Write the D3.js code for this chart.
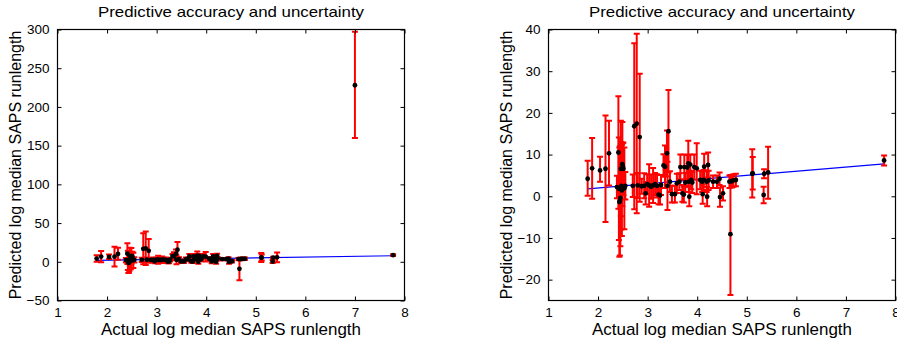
<!DOCTYPE html>
<html>
<head>
<meta charset="utf-8">
<script src="https://cdn.jsdelivr.net/npm/d3@7"></script>
<style>
  body { margin: 0; background: #fff; }
  svg { display: block; font-family: "Liberation Sans", Arial, Helvetica, sans-serif; }
</style>
</head>
<body>
<svg id="chart" width="897" height="341"></svg>
<script>
// actual log median runlength (x), predicted value (y) and its error bar ends
var actual = [1.79, 1.88, 2.04, 2.15, 2.22,
  2.38, 2.41, 2.42, 2.43, 2.44, 2.45, 2.46, 2.47, 2.48, 2.49, 2.50, 2.51, 2.53, 2.55,
  2.70, 2.73, 2.78, 2.80, 2.84, 2.88, 2.93, 2.96, 2.99, 3.03, 3.07, 3.11, 3.15, 3.19,
  3.22, 3.25, 3.27, 3.32, 3.35, 3.39, 3.42, 3.40, 3.45, 3.49, 3.55, 3.59, 3.64, 3.66,
  3.70, 3.73, 3.74, 3.76, 3.80, 3.82, 3.83, 3.84, 3.86, 3.88, 3.90, 3.94, 3.99, 4.06,
  4.10, 4.11, 4.13, 4.14, 4.19, 4.20, 4.22, 4.23, 4.32, 4.40, 4.45, 4.46, 4.52, 4.65,
  4.67, 4.70, 4.73, 4.78, 5.11, 5.12, 5.34, 5.35, 5.43, 7.00, 7.77];
var predicted = [4.2, 6.7, 6.2, 6.6, 10.3,
  2.2, 10.5, 1.8, -1.4, -1.1, -0.4, 6.6, 2.5, 1.4, 7.7, 7.1, 6.6, 1.9, 2.5,
  2.5, 16.8, 17.4, 2.6, 14.2, 2.4, 2.5, 0.7, 2.9, 2.6, 2.3, 2.6, 2.9, 2.5,
  0.4, 0.2, 2.7, 7.4, 7.1, 10.3, 15.6, 2.5, 3.5, 0.5, 0.5, 3.1, 3.5, 7.0,
  0.7, 0.4, 7.0, 3.3, 6.9, 7.9, 3.5, -0.1, 7.6, 3.9, 3.3, 7.0, 6.7, 3.9,
  3.5, 0.5, 3.9, 7.1, 3.5, -0.1, 7.5, 3.8, 3.5, 3.5, 4.2, -0.2, 0.7, 3.5,
  -9.1, 3.6, 3.8, 3.9, 5.4, 5.5, 0.3, 5.4, 5.7, 228, 8.6];
var lower = [0.1, -0.6, 3.5, -6.2, 2.6,
  -0.5, -3.0, -10.5, -14.5, -14.2, -12.0, -4.8, -8.0, -9.5, -2.4, 1.5, 0.3, -7.9, -0.8,
  -0.2, -3.1, -4.1, -0.4, -1.3, 0.6, -0.5, -2.0, 0.5, -2.5, -0.6, -1.6, 0.2, -0.3,
  -1.9, -2.0, 0.3, 4.7, 2.0, 4.8, 5.7, -3.3, 1.0, -1.5, -1.5, 0.8, 1.5, 4.0,
  -1.3, -1.5, 4.0, 1.0, 4.0, 2.5, 1.0, -2.4, 4.5, 1.7, 0.8, 4.0, 0.5, 1.7,
  1.0, -1.8, 1.5, 4.0, 1.0, -2.4, 4.5, 1.5, 2.0, 2.0, 2.7, -2.5, -1.0, 2.0,
  -23.7, 2.1, 2.3, 2.4, -0.3, 1.6, -1.7, 4.3, -0.6, 160, 7.4];
var upper = [8.5, 14.0, 9.5, 19.4, 18.1,
  4.9, 24.0, 14.1, 11.7, 12.0, 11.2, 18.1, 13.0, 12.3, 17.8, 12.7, 12.9, 11.7, 5.8,
  5.2, 36.7, 39.0, 5.6, 29.4, 4.2, 5.5, 3.4, 5.3, 7.7, 5.2, 6.8, 5.6, 5.3,
  2.7, 2.4, 5.1, 10.1, 12.2, 15.8, 25.5, 8.3, 6.0, 2.5, 2.5, 5.4, 5.5, 10.0,
  2.7, 2.3, 10.0, 5.6, 9.9, 13.3, 6.0, 2.2, 10.0, 6.1, 5.8, 10.0, 12.7, 6.1,
  6.0, 2.8, 6.3, 10.2, 6.0, 2.2, 10.5, 6.1, 5.0, 5.0, 5.7, 2.1, 2.4, 5.0,
  5.1, 5.1, 5.3, 5.4, 11.3, 9.4, 2.3, 6.5, 11.9, 297, 9.8];

var xTicks = [1, 2, 3, 4, 5, 6, 7, 8];
var yTicksLeft = [-50, 0, 50, 100, 150, 200, 250, 300];
var yTicksRight = [-20, -10, 0, 10, 20, 30, 40];

var titleText = "Predictive accuracy and uncertainty";
var xLabel = "Actual log median SAPS runlength";
var yLabel = "Predicted log median SAPS runlength";

var points = actual.map(function (x, i) {
  return { x: x, y: predicted[i], lo: lower[i], hi: upper[i] };
});

var svg = d3.select("#chart");

function fmt(v) {
  return v < 0 ? "\u2212" + Math.abs(v) : String(v);
}

function drawPanel(left, yDomain, yTicks, id) {
  var top = 29.5, w = 347, h = 271;
  var x = d3.scaleLinear().domain([1, 8]).range([0, w]);
  var y = d3.scaleLinear().domain(yDomain).range([h, 0]);

  var g = svg.append("g").attr("transform", "translate(" + left + "," + top + ")");

  g.append("clipPath").attr("id", id)
    .append("rect").attr("width", w).attr("height", h);

  var plot = g.append("g").attr("clip-path", "url(#" + id + ")");

  // y = x reference line over the data range
  var xr = d3.extent(actual);
  plot.append("line")
    .attr("x1", x(xr[0])).attr("y1", y(xr[0]))
    .attr("x2", x(xr[1])).attr("y2", y(xr[1]))
    .attr("stroke", "#0000ff").attr("stroke-width", 1.2);

  var bars = plot.selectAll("g.bar").data(points).enter().append("g").attr("class", "bar")
    .attr("stroke", "#ff0000").attr("stroke-width", 2);
  bars.append("line")
    .attr("x1", function (d) { return x(d.x); }).attr("x2", function (d) { return x(d.x); })
    .attr("y1", function (d) { return y(d.lo); }).attr("y2", function (d) { return y(d.hi); });
  bars.append("line")
    .attr("x1", function (d) { return x(d.x) - 3; }).attr("x2", function (d) { return x(d.x) + 3; })
    .attr("y1", function (d) { return y(d.lo); }).attr("y2", function (d) { return y(d.lo); });
  bars.append("line")
    .attr("x1", function (d) { return x(d.x) - 3; }).attr("x2", function (d) { return x(d.x) + 3; })
    .attr("y1", function (d) { return y(d.hi); }).attr("y2", function (d) { return y(d.hi); });

  plot.selectAll("circle").data(points).enter().append("circle")
    .attr("cx", function (d) { return x(d.x); })
    .attr("cy", function (d) { return y(d.y); })
    .attr("r", 2.4).attr("fill", "#000");

  // axes, ticks pointing inward like a boxed matlab plot
  var axB = g.append("g").attr("transform", "translate(0," + h + ")")
    .call(d3.axisBottom(x).tickValues(xTicks).tickSize(-4).tickPadding(6.5).tickFormat(fmt));
  var axT = g.append("g")
    .call(d3.axisTop(x).tickValues(xTicks).tickSize(-4).tickFormat(""));
  var axL = g.append("g")
    .call(d3.axisLeft(y).tickValues(yTicks).tickSize(-4).tickPadding(8).tickFormat(fmt));
  var axR = g.append("g").attr("transform", "translate(" + w + ",0)")
    .call(d3.axisRight(y).tickValues(yTicks).tickSize(-4).tickFormat(""));
  [axB, axT, axL, axR].forEach(function (a) {
    a.select(".domain").remove();
    a.selectAll("line").attr("stroke", "#000");
    a.selectAll("text").attr("fill", "#000").attr("font-size", 13.5)
      .attr("font-family", "'Liberation Sans', Arial, sans-serif");
  });

  g.append("rect").attr("width", w).attr("height", h)
    .attr("fill", "none").attr("stroke", "#000").attr("stroke-width", 1.2);

  g.append("text").attr("x", w / 2).attr("y", -12.5)
    .attr("text-anchor", "middle").attr("font-size", 15)
    .attr("textLength", 266).attr("lengthAdjust", "spacingAndGlyphs").text(titleText);
  g.append("text").attr("x", w / 2).attr("y", h + 34.5)
    .attr("text-anchor", "middle").attr("font-size", 17)
    .attr("textLength", 260).attr("lengthAdjust", "spacingAndGlyphs").text(xLabel);
  g.append("text")
    .attr("transform", "translate(-37," + (h / 2) + ") rotate(-90)")
    .attr("text-anchor", "middle").attr("font-size", 16).text(yLabel);
}

drawPanel(57.5, [-50, 300], yTicksLeft, "clipL");
drawPanel(548.5, [-25, 40], yTicksRight, "clipR");
</script>
</body>
</html>
